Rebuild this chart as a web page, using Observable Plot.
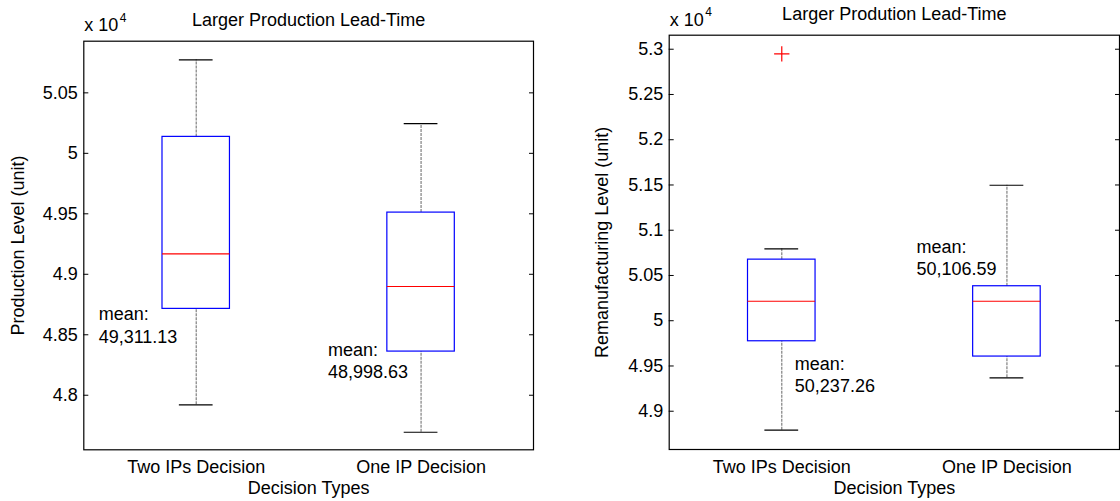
<!DOCTYPE html>
<html><head><meta charset="utf-8">
<script src="https://cdn.jsdelivr.net/npm/d3@7"></script>
<script src="https://cdn.jsdelivr.net/npm/@observablehq/plot@0.6"></script>
<style>
body{margin:0;background:#fff;}
#wrap{position:relative;width:1120px;height:501px;overflow:hidden;background:#fff;}
#left,#right{position:absolute;top:0;}
#left{left:0}#right{left:560px}
</style></head><body><div id="wrap"><div id="left"></div><div id="right"></div></div>
<script>
// ---- data ----
const categories = ["Two IPs Decision", "One IP Decision"];

// Left panel: Production Level
const prodWhiskerLow  = [47921, 47694];
const prodQ1          = [48714, 48361];
const prodMedian      = [49169, 48899];
const prodQ3          = [50136, 49510];
const prodWhiskerHigh = [50773, 50246];
const prodOutliers    = [];
const prodMeans       = [49311.13, 48998.63];

// Right panel: Remanufacturing Level
const remWhiskerLow  = [48790, 49369];
const remQ1          = [49773, 49604];
const remMedian      = [50215, 50215];
const remQ3          = [50675, 50381];
const remWhiskerHigh = [50794, 51497];
const remOutliers    = [{group: 0, value: 52949}];
const remMeans       = [50237.26, 50106.59];

const yTicksLeft  = [48000, 48500, 49000, 49500, 50000, 50500];
const yTicksRight = [49000, 49500, 50000, 50500, 51000, 51500, 52000, 52500, 53000];

// ---- chart ----
const FONT = "'Liberation Sans', Arial, Helvetica, sans-serif";
const BOX_HALF = 0.15, CAP_HALF = 0.075;
const fmtTick = d => String(+(d / 1e4).toFixed(4));
const fmtMean = d3.format(",.2f");

function panel(cfg) {
  const rows = categories.map((c, i) => ({
    pos: i + 1, lo: cfg.lo[i], q1: cfg.q1[i], med: cfg.med[i], q3: cfg.q3[i], hi: cfg.hi[i]
  }));
  const outs = cfg.outliers.map(o => ({pos: o.group + 1, value: o.value}));
  const notes = cfg.means.map((m, i) => ({...cfg.notePos[i], text: "mean:\n" + fmtMean(m)}));
  return Plot.plot({
    width: 560, height: 501,
    marginLeft: cfg.m[0], marginRight: cfg.m[1], marginTop: cfg.m[2], marginBottom: cfg.m[3],
    style: {fontFamily: FONT, fontSize: "18px", color: "#000", background: "#fff", overflow: "visible"},
    x: {domain: [0.5, 2.5]},
    y: {domain: cfg.domain},
    marks: [
      Plot.ruleX(rows, {x: "pos", y1: "q3", y2: "hi", stroke: "#808080", strokeWidth: 1.2, strokeDasharray: "3,1"}),
      Plot.ruleX(rows, {x: "pos", y1: "lo", y2: "q1", stroke: "#808080", strokeWidth: 1.2, strokeDasharray: "3,1"}),
      Plot.ruleY(rows, {y: "hi", x1: d => d.pos - CAP_HALF, x2: d => d.pos + CAP_HALF, stroke: "#000", strokeWidth: 1.2}),
      Plot.ruleY(rows, {y: "lo", x1: d => d.pos - CAP_HALF, x2: d => d.pos + CAP_HALF, stroke: "#000", strokeWidth: 1.2}),
      Plot.rect(rows, {x1: d => d.pos - BOX_HALF, x2: d => d.pos + BOX_HALF, y1: "q1", y2: "q3", fill: "none", stroke: "#0000ff", strokeWidth: 1.2}),
      Plot.ruleY(rows, {y: "med", x1: d => d.pos - BOX_HALF, x2: d => d.pos + BOX_HALF, stroke: "#ff0000", strokeWidth: 1.2}),
      Plot.dot(outs, {x: "pos", y: "value", symbol: "plus", r: 5, stroke: "#ff0000", strokeWidth: 1.2}),
      Plot.frame({stroke: "#000", strokeWidth: 1.2}),
      Plot.axisY({anchor: "left", ticks: cfg.ticks, tickSize: -5, tickPadding: 11, tickFormat: fmtTick, fontSize: 18}),
      Plot.axisY({anchor: "right", ticks: cfg.ticks, tickSize: -5, tickFormat: () => ""}),
      Plot.axisX({anchor: "bottom", ticks: [1, 2], tickSize: 0, tickPadding: 10.5, tickFormat: d => categories[d - 1], fontSize: 18}),
      Plot.text(notes, {x: "x", y: "y", text: "text", textAnchor: "start", lineHeight: 1.25, fontSize: 18}),
      Plot.text([cfg.title], {frameAnchor: "top", lineAnchor: "middle", textAnchor: "middle", dy: cfg.titleDy, fontSize: 18}),
      Plot.text(["x 10"], {frameAnchor: "top-left", lineAnchor: "middle", textAnchor: "start", dx: 0.5, dy: cfg.expDy, fontSize: 18}),
      Plot.text(["4"], {frameAnchor: "top-left", lineAnchor: "middle", textAnchor: "start", dx: 36, dy: cfg.expDy - 8, fontSize: 12}),
      Plot.text([cfg.ylabel], {frameAnchor: "left", lineAnchor: "middle", textAnchor: "middle", dx: cfg.ylabelDx, rotate: -90, fontSize: 18}),
      Plot.text(["Decision Types"], {frameAnchor: "bottom", lineAnchor: "middle", textAnchor: "middle", dy: 38.5, fontSize: 18})
    ]
  });
}

document.getElementById("left").append(panel({
  lo: prodWhiskerLow, q1: prodQ1, med: prodMedian, q3: prodQ3, hi: prodWhiskerHigh,
  outliers: prodOutliers, means: prodMeans,
  notePos: [{x: 0.566, y: 48585}, {x: 1.586, y: 48295}],
  domain: [47549, 50927], ticks: yTicksLeft,
  m: [83.3, 27, 40.7, 51.7],
  title: "Larger Production Lead-Time", titleDy: -20.5, expDy: -15.5,
  ylabel: "Production Level (unit)", ylabelDx: -66
}));

document.getElementById("right").append(panel({
  lo: remWhiskerLow, q1: remQ1, med: remMedian, q3: remQ3, hi: remWhiskerHigh,
  outliers: remOutliers, means: remMeans,
  notePos: [{x: 1.058, y: 49413}, {x: 1.598, y: 50704}],
  domain: [48577, 53155], ticks: yTicksRight,
  m: [108.7, 1, 34.7, 52],
  title: "Larger Prodution Lead-Time", titleDy: -20.5, expDy: -14.8,
  ylabel: "Remanufacturing Level (unit)", ylabelDx: -67
}));
</script>
</body></html>
